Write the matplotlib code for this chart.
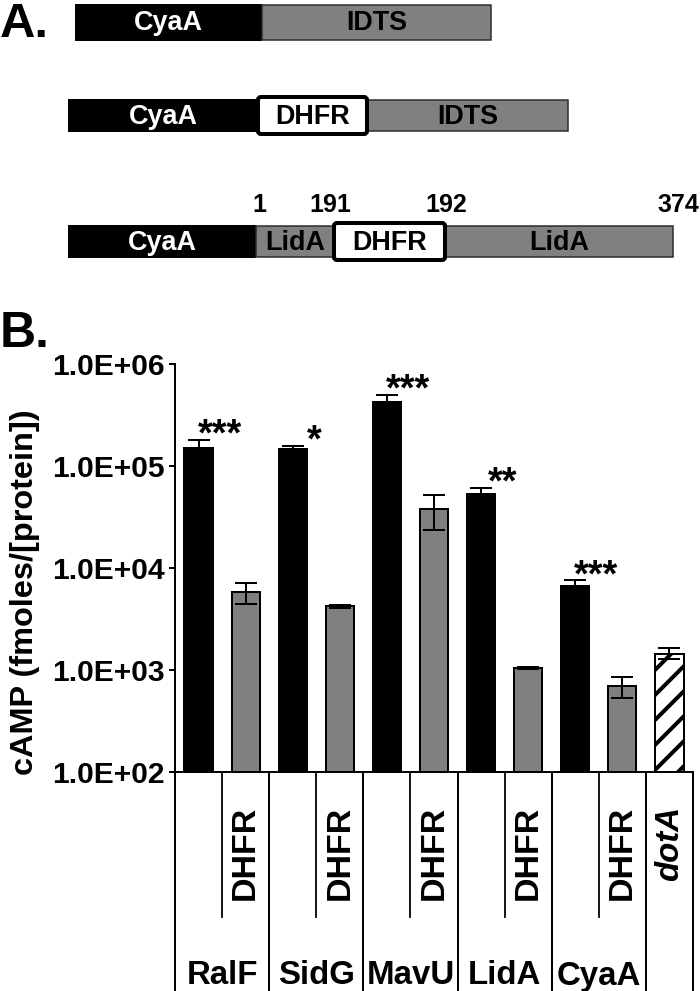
import matplotlib
matplotlib.use("Agg")
import matplotlib.pyplot as plt
from matplotlib.patches import Rectangle, FancyBboxPatch
from matplotlib.lines import Line2D
import numpy as np

DPI = 75
W, H = 700, 991
def P(px):
    return px * 72.0 / DPI

plt.rcParams['font.family'] = ['Liberation Sans', 'DejaVu Sans']
plt.rcParams['font.weight'] = 'bold'
plt.rcParams['hatch.linewidth'] = P(4)

# ---------------- data ----------------
groups = ["RalF", "SidG", "MavU", "LidA", "CyaA"]
full_vals = [1.5e5, 1.47e5, 4.2e5, 5.3e4, 6.7e3]
full_err = [3.0e4, 1.1e4, 8.0e4, 8.0e3, 9.0e2]
dhfr_vals = [5.8e3, 4.2e3, 3.8e4, 1.04e3, 6.9e2]
dhfr_err = [1.4e3, 1.5e2, 1.45e4, 2.0e1, 1.6e2]
dota_val = 1.45e3
dota_err = 1.8e2
stars = ["***", "*", "***", "**", "***"]
ytick_vals = [1e2, 1e3, 1e4, 1e5, 1e6]
ytick_labels = ["1.0E+02", "1.0E+03", "1.0E+04", "1.0E+05", "1.0E+06"]
ylabel = "cAMP (fmoles/[protein])"

# schematic constructs (panel A): (label, start, end, kind)
construct1 = [("CyaA", 75, 262, "black"), ("IDTS", 262, 491, "gray")]
construct2 = [("CyaA", 68, 258, "black"), ("DHFR", 258, 367, "box"), ("IDTS", 367, 568, "gray")]
construct3 = [("CyaA", 68, 256, "black"), ("LidA", 256, 334, "gray"),
              ("DHFR", 334, 445, "box"), ("LidA", 445, 673, "gray")]
construct_rows = [(construct1, 4, 41), (construct2, 99, 132), (construct3, 225, 258)]
residue_labels = ["1", "191", "192", "374"]
residue_pos = [259, 330, 446, 678]

fig = plt.figure(figsize=(W / DPI, H / DPI), dpi=DPI)
fig.patch.set_facecolor("white")

# ---------------- panel A ----------------
axA = fig.add_axes([0, 0, 1, 1])
axA.set_xlim(0, W)
axA.set_ylim(H, 0)
axA.axis("off")
axA.patch.set_alpha(0)

GRAY = "#808080"
for row, y0, y1 in construct_rows:
    for lab, s, e, kind in row:
        if kind == "black":
            axA.add_patch(Rectangle((s, y0), e - s, y1 - y0, facecolor="black", edgecolor="none"))
            col = "white"
        elif kind == "gray":
            axA.add_patch(Rectangle((s, y0 + 1), e - s, y1 - y0 - 2, facecolor=GRAY,
                                    edgecolor="#2a2a2a", linewidth=P(1.5)))
            col = "black"
        else:
            axA.add_patch(FancyBboxPatch((s, y0 - 2), e - s, y1 - y0 + 4,
                                         boxstyle="round,pad=0,rounding_size=3",
                                         facecolor="white", edgecolor="black",
                                         linewidth=P(4), zorder=3))
            col = "black"
        axA.text((s + e) / 2, (y0 + y1) / 2 + 1, lab, color=col, fontsize=P(27),
                 fontweight="bold", ha="center", va="center", zorder=4)

for lab, xp in zip(residue_labels, residue_pos):
    axA.text(xp, 205, lab, fontsize=P(25), fontweight="bold", ha="center", va="center")

axA.text(0, 37, "A.", fontsize=P(49), fontweight="bold", ha="left", va="baseline")
axA.text(0, 347, "B.", fontsize=P(50), fontweight="bold", ha="left", va="baseline")

# ---------------- panel B ----------------
ax = fig.add_axes([175 / W, 1 - 772 / H, 518 / W, 408 / H])
ax.set_xlim(-0.5, 10.5)

xs_full = np.arange(len(groups)) * 2
xs_dhfr = xs_full + 1
x_dota = 2 * len(groups)

ax.bar(xs_full, full_vals, width=0.6, color="black", edgecolor="black",
       linewidth=P(2), log=True, zorder=2)
ax.bar(xs_dhfr, dhfr_vals, width=0.6, color=GRAY, edgecolor="black",
       linewidth=P(2), log=True, zorder=2)
ax.bar([x_dota], [dota_val], width=0.6, color="white", edgecolor="black",
       linewidth=P(2), hatch="/", log=True, zorder=2)

ekw = dict(fmt="none", ecolor="black", elinewidth=P(2), capsize=P(11), capthick=P(2), zorder=3)
ax.errorbar(xs_full, full_vals, yerr=full_err, **ekw)
ax.errorbar(xs_dhfr, dhfr_vals, yerr=dhfr_err, **ekw)
ax.errorbar([x_dota], [dota_val], yerr=[dota_err], **ekw)

for xf, v, e, s in zip(xs_full, full_vals, full_err, stars):
    ax.annotate(s, xy=(xf + 0.45, v + e), xytext=(0, P(-6)), textcoords="offset points",
                ha="center", va="baseline", fontsize=P(38), fontweight="bold")

ax.set_yscale("log")
ax.set_ylim(1e2, 1e6)
ax.set_yticks(ytick_vals)
ax.set_yticklabels(ytick_labels)
ax.yaxis.set_minor_locator(matplotlib.ticker.NullLocator())
ax.tick_params(axis="y", length=P(6), width=P(2), labelsize=P(30), pad=P(4))
for lbl in ax.get_yticklabels():
    lbl.set_fontweight("bold")
ax.set_xticks([])
for sp in ["top", "right"]:
    ax.spines[sp].set_visible(False)
for sp in ["left", "bottom"]:
    ax.spines[sp].set_linewidth(P(2))
ax.patch.set_alpha(0)

fig.text(25 / W, 1 - 592 / H, ylabel, rotation=90, ha="center", va="center",
         fontsize=P(32.5), fontweight="bold")

# table below axis
tr = ax.get_xaxis_transform()
y_bottom = (772 - 995) / 408.0
y_short = (772 - 917) / 408.0
for xb in list(np.arange(-0.5, 10, 2)) + [10.5]:
    ax.add_line(Line2D([xb, xb], [0, y_bottom], transform=tr, color="black",
                       linewidth=P(2), clip_on=False))
for xb in np.arange(0.5, 10, 2):
    ax.add_line(Line2D([xb, xb], [0, y_short], transform=tr, color="black",
                       linewidth=P(1.8), clip_on=False))

y_lab_top = (772 - 806) / 408.0
for xd in xs_dhfr:
    ax.text(xd, y_lab_top, "DHFR", transform=tr, rotation=90, ha="center", va="top",
            fontsize=P(34), fontweight="bold")
ax.text(x_dota, y_lab_top, "dotA", transform=tr, rotation=90, ha="center", va="top",
        fontsize=P(33), fontweight="bold", fontstyle="italic")

y_grp = (772 - 976) / 408.0
for xg, g in zip(xs_full + 0.5, groups):
    ax.text(xg, y_grp, g, transform=tr, ha="center", va="center",
            fontsize=P(33), fontweight="bold")

fig.savefig("out.png", dpi=DPI, facecolor="white")
